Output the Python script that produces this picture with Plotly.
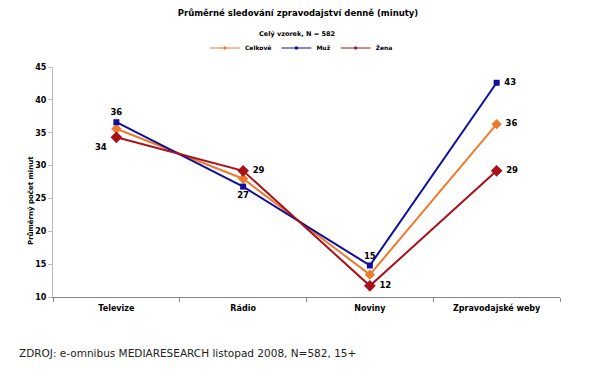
import plotly.graph_objects as go

categories = ["Televize", "Rádio", "Noviny", "Zpravodajské weby"]
celkove = [35.6, 28.0, 13.4, 36.3]
muz = [36.6, 26.8, 14.8, 42.6]
zena = [34.3, 29.2, 11.7, 29.2]

muz_labels = ["36", "27", "15", "43"]
muz_pos = ["top center", "bottom center", "top center", "middle right"]
zena_labels = ["34", "29", "12", "29"]
zena_pos = ["bottom left", "middle right", "middle right", "middle right"]
cel_labels = ["", "", "", "36"]
cel_pos = ["middle right"] * 4

font_fam = "DejaVu Sans"
x = list(range(len(categories)))

c_cel = "#EE7A2C"
c_muz = "#0E0EA0"
c_zena = "#A8101A"

lab_font = dict(size=8.5, family=font_fam, color="#000")


def bold(lst):
    return [("<b> %s </b>" % t) if t else "" for t in lst]


fig = go.Figure()
series = [
    ("Celkově", celkove, c_cel, "diamond", 8, cel_labels, cel_pos),
    ("Muž", muz, c_muz, "square", 6, muz_labels, muz_pos),
    ("Žena", zena, c_zena, "diamond", 9, zena_labels, zena_pos),
]
for name, vals, col, sym, sz, labs, pos in series:
    fig.add_trace(go.Scatter(x=x, y=vals, name=name, mode="lines+markers+text",
                             line=dict(color=col, width=2),
                             marker=dict(symbol=sym, size=sz, color=col),
                             text=bold(labs), textposition=pos, textfont=lab_font,
                             showlegend=False))
# legend entries (small symbols like the original)
for name, vals, col, sym, sz, labs, pos in series:
    fig.add_trace(go.Scatter(x=[None], y=[None], name="<b>%s</b>" % name, mode="lines+markers",
                             line=dict(color=col, width=1),
                             marker=dict(symbol=sym, size=3, color=col)))

# page body has an 8px margin, so compensate the figure size
W, H = 592, 377
fig.update_layout(
    width=W, height=H,
    margin=dict(l=45, r=40, t=59, b=88),
    paper_bgcolor="white", plot_bgcolor="white",
    font=dict(family=font_fam, size=9, color="#000"),
    title=dict(text="<b>Průměrné sledování zpravodajství denně (minuty)</b>",
               x=290 / W, xanchor="center", y=1 - 5 / H, yanchor="middle",
               font=dict(size=8.5, family=font_fam)),
    legend=dict(orientation="h", x=0.49, xanchor="center", y=(297 - 48) / 230, yanchor="middle",
                font=dict(size=6, family=font_fam), itemwidth=30,
                traceorder="normal", tracegroupgap=0),
    showlegend=True,
    annotations=[
        dict(text="<b>Celý vzorek, N = 582</b>", xref="paper", yref="paper",
             x=(297 - 53) / 507, y=(297 - 34) / 230, xanchor="center", yanchor="middle",
             showarrow=False, font=dict(size=6.5, family=font_fam)),
        dict(text="<b>Průměrný počet minut</b>", xref="paper", yref="paper",
             x=(30 - 53) / 507, y=(297 - 201) / 230, xanchor="center", yanchor="middle",
             textangle=-90, showarrow=False, font=dict(size=7, family=font_fam)),
        dict(text="ZDROJ: e-omnibus MEDIARESEARCH listopad 2008, N=582, 15+",
             xref="paper", yref="paper", x=(17 - 53) / 507, y=(297 - 353) / 230,
             xanchor="left", yanchor="middle", showarrow=False,
             font=dict(size=10.5, family="DejaVu Sans", color="#222")),
    ],
)
fig.update_xaxes(tickvals=x, ticktext=["<b>%s</b>" % c for c in categories],
                 range=[-0.5, 3.5], showgrid=False, zeroline=False,
                 showline=True, linecolor="#888", linewidth=1,
                 ticks="", tickfont=dict(size=8), ticklabelstandoff=3,
                 minor=dict(tickvals=[-0.5, 0.5, 1.5, 2.5, 3.5], ticks="outside",
                            ticklen=4, tickcolor="#888"))
fig.update_yaxes(range=[10, 45], dtick=5, showgrid=False, zeroline=False,
                 showline=True, linecolor="#bbb", linewidth=1,
                 ticks="outside", ticklen=4, tickcolor="#bbb",
                 tickfont=dict(size=8), tickprefix="<b>", ticksuffix="</b>")

fig.write_html("out.html")
